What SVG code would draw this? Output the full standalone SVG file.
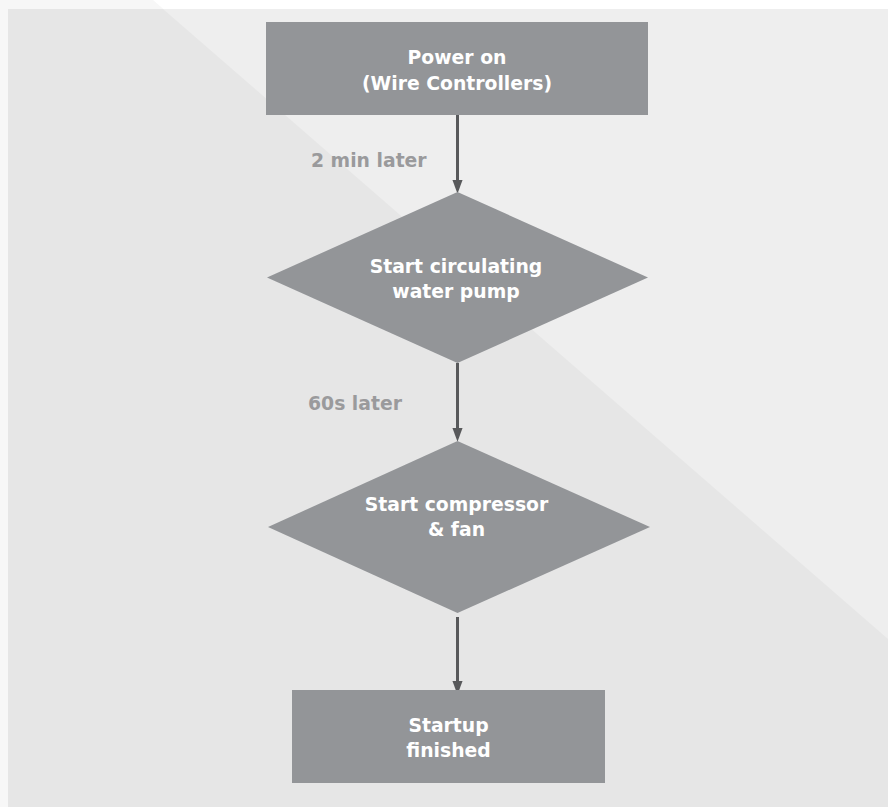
<svg xmlns="http://www.w3.org/2000/svg" width="888" height="807" viewBox="0 0 888 807">
  <defs>
    <style>
      .node { fill: #939598; }
      .ntext { fill: #ffffff; font-family: "DejaVu Sans", "Liberation Sans", sans-serif; font-weight: bold; font-size: 18.8px; text-anchor: middle; }
      .label { fill: #9a9a9c; font-family: "DejaVu Sans", "Liberation Sans", sans-serif; font-weight: bold; font-size: 18.8px; }
      .conn { stroke: #58595b; stroke-width: 3; fill: none; }
    </style>
    <marker id="arrow" markerUnits="userSpaceOnUse" markerWidth="14" markerHeight="19" refX="14" refY="7" orient="auto" viewBox="0 0 19 14">
      <path d="M0,0 L19,7 L0,14 Z" fill="#58595b"/>
    </marker>
  </defs>

  <!-- background -->
  <g id="background">
    <rect x="0" y="0" width="888" height="807" fill="#f7f7f7"/>
    <polygon points="153,0 888,0 888,639" fill="#ffffff"/>
    <rect x="8" y="9" width="880" height="798" fill="#e6e6e6"/>
    <polygon points="163,9 888,9 888,639" fill="#eeeeee"/>
  </g>

  <g id="connectors">
    <line class="conn" x1="457.5" y1="115" x2="457.5" y2="190" marker-end="url(#arrow)"/>
    <line class="conn" x1="457.5" y1="363" x2="457.5" y2="438" marker-end="url(#arrow)"/>
    <line class="conn" x1="457.5" y1="617" x2="457.5" y2="691" marker-end="url(#arrow)"/>
    <text class="label" x="311" y="167">2 min later</text>
    <text class="label" x="308" y="410">60s later</text>
  </g>

  <g id="power-on">
    <rect class="node" x="266" y="22" width="382" height="93"/>
    <text class="ntext" x="457" y="64">Power on</text>
    <text class="ntext" x="457" y="90">(Wire Controllers)</text>
  </g>

  <g id="start-pump">
    <polygon class="node" points="457.5,192 648,277.5 457.5,363 267,277.5"/>
    <text class="ntext" x="456" y="273">Start circulating</text>
    <text class="ntext" x="456" y="298">water pump</text>
  </g>

  <g id="start-compressor">
    <polygon class="node" points="457.5,441 650,527 457.5,613 268,527"/>
    <text class="ntext" x="456.5" y="511">Start compressor</text>
    <text class="ntext" x="456.5" y="536">&amp; fan</text>
  </g>

  <g id="startup-finished">
    <rect class="node" x="292" y="690" width="313" height="93"/>
    <text class="ntext" x="448.5" y="732">Startup</text>
    <text class="ntext" x="448.5" y="757">finished</text>
  </g>
</svg>
